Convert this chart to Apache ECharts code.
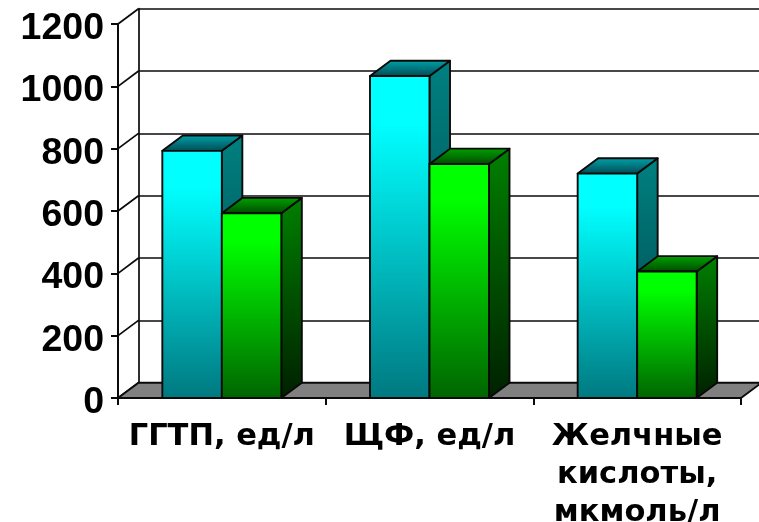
<!DOCTYPE html>
<html>
<head>
<meta charset="utf-8">
<style>html,body{margin:0;padding:0;background:#fff}#chart{width:759px;height:522px}</style>
<script src="https://cdn.jsdelivr.net/npm/echarts@6/dist/echarts.min.js"></script>
</head>
<body>
<div id="chart"></div>
<script>
// Laboratory markers shown as paired 3D columns
const categories = ['ГГТП, ед/л', 'ЩФ, ед/л', 'Желчные\nкислоты,\nмкмоль/л'];
const cyanValues = [793, 1033, 720];
const greenValues = [593, 751, 406];
const axisTicks = [0, 200, 400, 600, 800, 1000, 1200];

// Depth of the extruded columns and of the chart box, in pixels
const DEPTH_X = 20.5, DEPTH_Y = -15.3;
const BAR_SHARE = 0.2865;
const INK = '#0a0a0a';

const vGrad = (top, bottom, hold) => ({
  type: 'linear', x: 0, y: 0, x2: 0, y2: 1,
  colorStops: [{offset: 0, color: top}, {offset: hold || 0, color: top}, {offset: 1, color: bottom}]
});

const poly = (points, fill, width) => ({
  type: 'polygon',
  shape: {points},
  style: {fill, stroke: INK, lineWidth: width || 1.9, lineJoin: 'round'}
});

function columnRenderer(side, palette) {
  return function (params, api) {
    const cat = api.value(0);
    const top = api.coord([cat, api.value(1)]);
    const base = api.coord([cat, 0]);
    const w = api.size([1, 0])[0] * BAR_SHARE;
    const x0 = side < 0 ? top[0] - w : top[0];
    const x1 = x0 + w;
    const yT = top[1], yB = base[1];
    return {
      type: 'group',
      children: [
        poly([[x1, yB], [x1 + DEPTH_X, yB + DEPTH_Y], [x1 + DEPTH_X, yT + DEPTH_Y], [x1, yT]], vGrad(palette.side[0], palette.side[1])),
        poly([[x0, yT], [x1, yT], [x1 + DEPTH_X, yT + DEPTH_Y], [x0 + DEPTH_X, yT + DEPTH_Y]], vGrad(palette.cap[1], palette.cap[0])),
        poly([[x0, yB], [x1, yB], [x1, yT], [x0, yT]], vGrad(palette.face[0], palette.face[1], 0.15))
      ]
    };
  };
}

// Grey floor of the box
function floorRenderer(params) {
  const c = params.coordSys;
  const y = c.y + c.height, x = c.x, r = c.x + c.width;
  return poly([[x, y], [x + DEPTH_X, y + DEPTH_Y], [r + DEPTH_X, y + DEPTH_Y], [r, y]], '#808080');
}

// Slanted strokes joining the front axis ticks to the back wall
function wallRenderer(params, api) {
  const c = params.coordSys;
  const y = api.coord([0, api.value(0)])[1];
  return {
    type: 'line',
    shape: {x1: c.x, y1: y, x2: c.x + DEPTH_X, y2: y + DEPTH_Y},
    style: {stroke: INK, lineWidth: 1.7}
  };
}

const chart = echarts.init(document.getElementById('chart'), null, {renderer: 'canvas'});
chart.setOption({
  backgroundColor: '#fff',
  animation: false,
  grid: [
    {left: 118, top: 24, width: 623, height: 374, outerBoundsMode: 'none', containLabel: false},
    {left: 138.5, top: 8.7, width: 623, height: 374, outerBoundsMode: 'none', containLabel: false}
  ],
  xAxis: [
    {
      type: 'category', gridIndex: 0, data: categories,
      axisLine: {lineStyle: {color: INK, width: 2}},
      axisTick: {show: true, alignWithLabel: false, length: 7, lineStyle: {color: INK, width: 2}},
      axisLabel: {
        interval: 0, margin: 20, lineHeight: 38, hideOverlap: false,
        color: '#000', fontFamily: 'DejaVu Sans', fontWeight: 'bold', fontSize: 30.5
      }
    },
    {type: 'category', gridIndex: 1, data: categories, show: false}
  ],
  yAxis: [
    {
      type: 'value', gridIndex: 0, min: 0, max: 1200, interval: 200,
      splitLine: {show: false},
      axisLine: {show: true, lineStyle: {color: INK, width: 2}},
      axisTick: {show: true, length: 7, lineStyle: {color: INK, width: 2}},
      axisLabel: {
        margin: 14,
        formatter: v => '{tick|' + v + '}',
        rich: {
          tick: {
            padding: [9, 0, 0, 0], color: '#000', fontFamily: 'Liberation Sans',
            fontWeight: 'bold', fontSize: 37.5
          }
        }
      }
    },
    {
      type: 'value', gridIndex: 1, min: 0, max: 1200, interval: 200,
      axisLabel: {show: false}, axisTick: {show: false},
      axisLine: {show: true, lineStyle: {color: INK, width: 1.7}},
      splitLine: {show: true, lineStyle: {color: INK, width: 1.7}}
    }
  ],
  series: [
    {
      type: 'custom', coordinateSystem: 'cartesian2d', xAxisIndex: 0, yAxisIndex: 0,
      data: axisTicks.map(t => [t]), encode: {y: 0}, z: 1,
      renderItem: wallRenderer, silent: true
    },
    {
      type: 'custom', coordinateSystem: 'cartesian2d', xAxisIndex: 0, yAxisIndex: 0,
      data: [[0]], encode: {y: 0}, z: 1,
      renderItem: floorRenderer, silent: true
    },
    {
      type: 'custom', xAxisIndex: 0, yAxisIndex: 0, z: 3,
      encode: {x: 0, y: 1},
      data: cyanValues.map((v, i) => [i, v]),
      renderItem: columnRenderer(-1, {
        face: ['#00ffff', '#007880'], side: ['#008080', '#004048'], cap: ['#004850', '#00a4ac']
      })
    },
    {
      type: 'custom', xAxisIndex: 0, yAxisIndex: 0, z: 4,
      encode: {x: 0, y: 1},
      data: greenValues.map((v, i) => [i, v]),
      renderItem: columnRenderer(1, {
        face: ['#00ff00', '#006400'], side: ['#008000', '#002000'], cap: ['#004800', '#00a400']
      })
    }
  ]
});
</script>
</body>
</html>
